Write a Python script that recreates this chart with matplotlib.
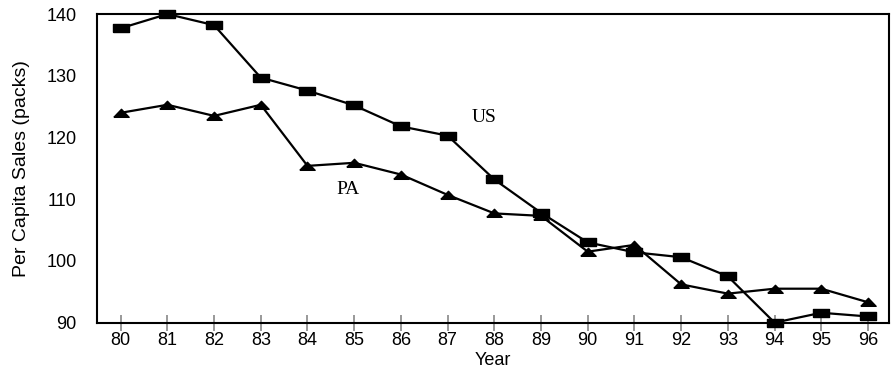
import matplotlib
matplotlib.use('Agg')
import matplotlib.pyplot as plt
import numpy as np

years = [80, 81, 82, 83, 84, 85, 86, 87, 88, 89, 90, 91, 92, 93, 94, 95, 96]
us = [137.7, 140.0, 138.2, 129.7, 127.6, 125.2, 121.8, 120.3, 113.2, 107.8, 103.0, 101.4, 100.6, 97.5, 90.0, 91.6, 91.0]
pa = [124.0, 125.3, 123.5, 125.3, 115.4, 115.9, 114.0, 110.7, 107.7, 107.3, 101.5, 102.6, 96.2, 94.7, 95.5, 95.5, 93.3]

plt.rcParams['font.family'] = ['Liberation Sans', 'DejaVu Sans']

# flattened markers like the original
rect = [(-1, -0.55), (1, -0.55), (1, 0.55), (-1, 0.55), (-1, -0.55)]
tri = [(-1, -0.5), (1, -0.5), (0, 0.55), (-1, -0.5)]

fig = plt.figure(figsize=(8.96, 3.70), dpi=100)
ax = fig.add_axes([0.1086, 0.128, 0.8836, 0.834])

ax.plot(years, us, color='black', lw=1.6, marker=rect, ms=11, clip_on=False, zorder=3)
ax.plot(years, pa, color='black', lw=1.6, marker=tri, ms=11, clip_on=False, zorder=3)

ax.set_xlim(79.5, 96.45)
ax.set_ylim(90, 140)
ax.set_xticks(years)
ax.set_xticklabels([str(y) for y in years])
ax.set_yticks([90, 100, 110, 120, 130, 140])

ax.tick_params(axis='x', direction='inout', length=12, width=1.2, color='#888888',
               labelsize=13, pad=1)
ax.tick_params(axis='y', length=0, labelsize=13, pad=15)
for s in ax.spines.values():
    s.set_linewidth(1.5)

ax.set_xlabel('Year', fontsize=13, labelpad=2)
ax.set_ylabel('Per Capita Sales (packs)', fontsize=14, labelpad=12)

ax.text(87.78, 123.3, 'US', family=['Liberation Serif', 'DejaVu Serif'], fontsize=14, ha='center', va='center')
ax.text(84.86, 111.5, 'PA', family=['Liberation Serif', 'DejaVu Serif'], fontsize=14, ha='center', va='center')

fig.savefig('out.png', dpi=100)
